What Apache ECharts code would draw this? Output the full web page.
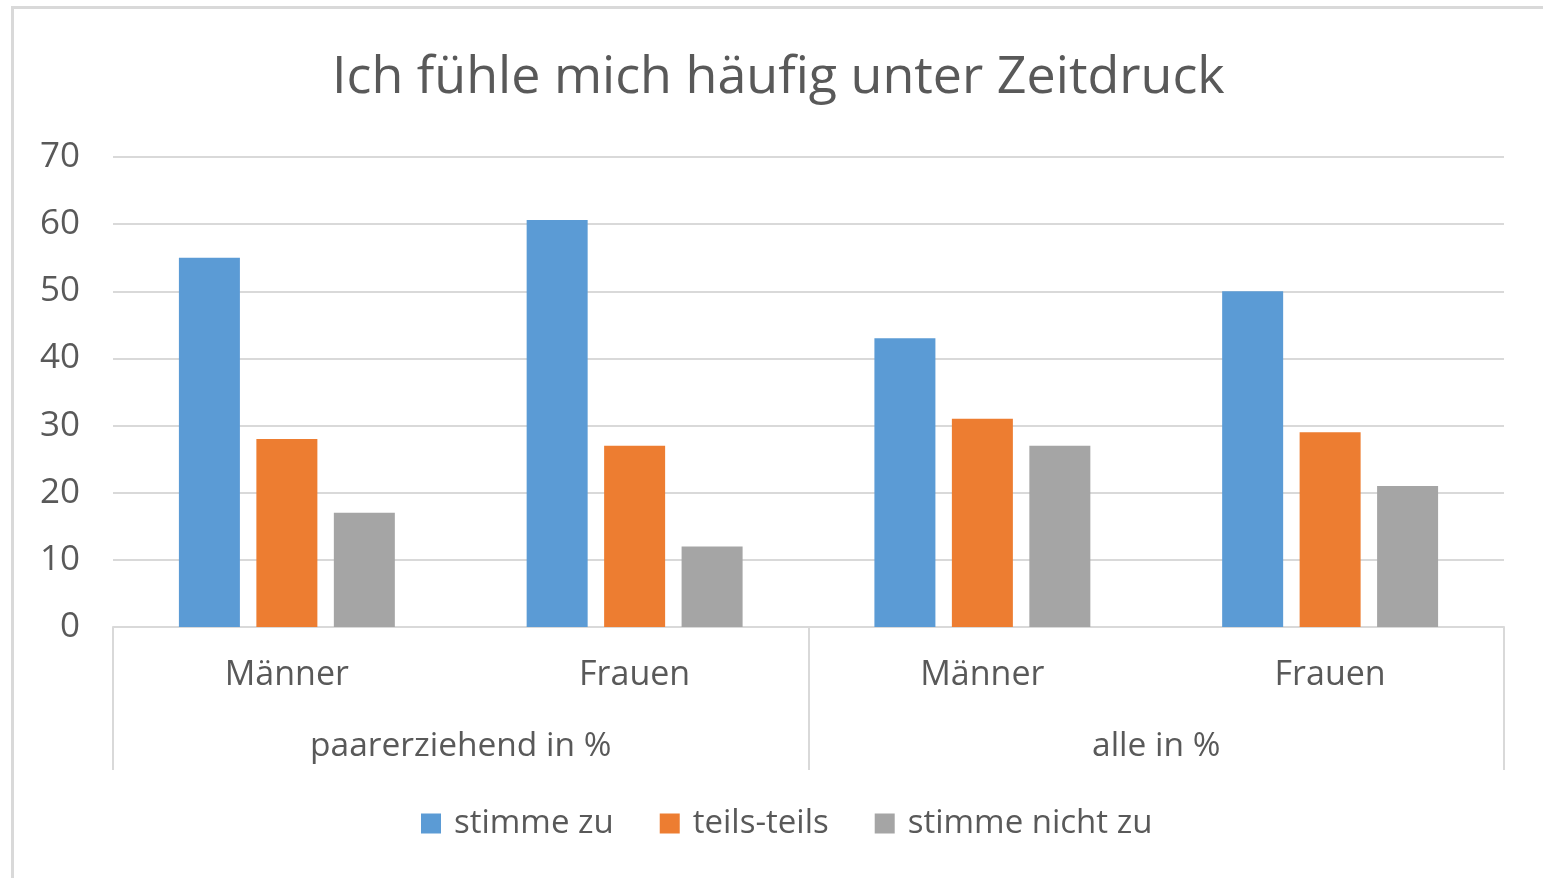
<!DOCTYPE html>
<html>
<head>
<meta charset="utf-8">
<script src="https://cdn.jsdelivr.net/npm/echarts@6/dist/echarts.min.js"></script>
<style>
  html, body { margin: 0; padding: 0; background: #fff; }
  #frame { position: absolute; left: 11px; top: 6px; right: 0; bottom: 0;
           border-left: 3px solid #d9d9d9; border-top: 3px solid #d9d9d9; }
  #chart { position: absolute; left: 0; top: 0; width: 1543px; height: 878px; }
</style>
</head>
<body>
<div id="frame"></div>
<div id="chart"></div>
<script>
const titleText = 'Ich fühle mich häufig unter Zeitdruck';
const subCategories = ['Männer', 'Frauen', 'Männer', 'Frauen'];
const groups = ['paarerziehend in %', 'alle in %'];
const seriesNames = ['stimme zu', 'teils-teils', 'stimme nicht zu'];
const stimmeZu = [55, 60.6, 43, 50];
const teilsTeils = [28, 27, 31, 29];
const stimmeNichtZu = [17, 12, 27, 21];
const yTicks = { min: 0, max: 70, interval: 10 };

const colors = ['#5b9bd5', '#ed7d31', '#a5a5a5'];
const textColor = '#595959';
const lineColor = '#d9d9d9';
const font = 'Open Sans';

const chart = echarts.init(document.getElementById('chart'), null, { renderer: 'canvas' });
const values = [stimmeZu, teilsTeils, stimmeNichtZu];

chart.setOption({
  animation: false,
  color: colors,
  title: {
    text: titleText,
    left: 327,
    top: 47,
    textStyle: { fontFamily: font, fontSize: 52, fontWeight: 'normal', color: textColor }
  },
  legend: {
    bottom: 33,
    left: 416,
    itemWidth: 20,
    itemHeight: 20,
    itemGap: 46,
    icon: 'rect',
    textStyle: { fontFamily: font, fontSize: 33, color: textColor, padding: [0, 0, 0, 8] },
    data: seriesNames
  },
  grid: { left: 113, right: 39, top: 157, bottom: 251, containLabel: false },
  xAxis: [
    {
      type: 'category',
      data: subCategories,
      axisLine: { show: true, lineStyle: { color: lineColor, width: 2 } },
      axisTick: { show: false },
      axisLabel: { fontFamily: font, fontSize: 34, color: textColor, margin: 31 }
    },
    {
      type: 'category',
      data: groups,
      position: 'bottom',
      axisLine: { show: false },
      axisTick: { show: true, length: 143, interval: 0, lineStyle: { color: lineColor, width: 2 } },
      axisLabel: { fontFamily: font, fontSize: 33.5, color: textColor, margin: 102 },
      splitLine: { show: false }
    }
  ],
  yAxis: {
    type: 'value',
    min: yTicks.min,
    max: yTicks.max,
    interval: yTicks.interval,
    axisLine: { show: false },
    axisTick: { show: false },
    axisLabel: { fontFamily: font, fontSize: 35, color: textColor, margin: 33 },
    splitLine: { lineStyle: { color: lineColor, width: 2 } }
  },
  series: seriesNames.map((name, i) => ({
    name: name,
    type: 'bar',
    xAxisIndex: 0,
    data: values[i],
    barWidth: 61,
    barGap: '27%'
  }))
});
</script>
</body>
</html>
